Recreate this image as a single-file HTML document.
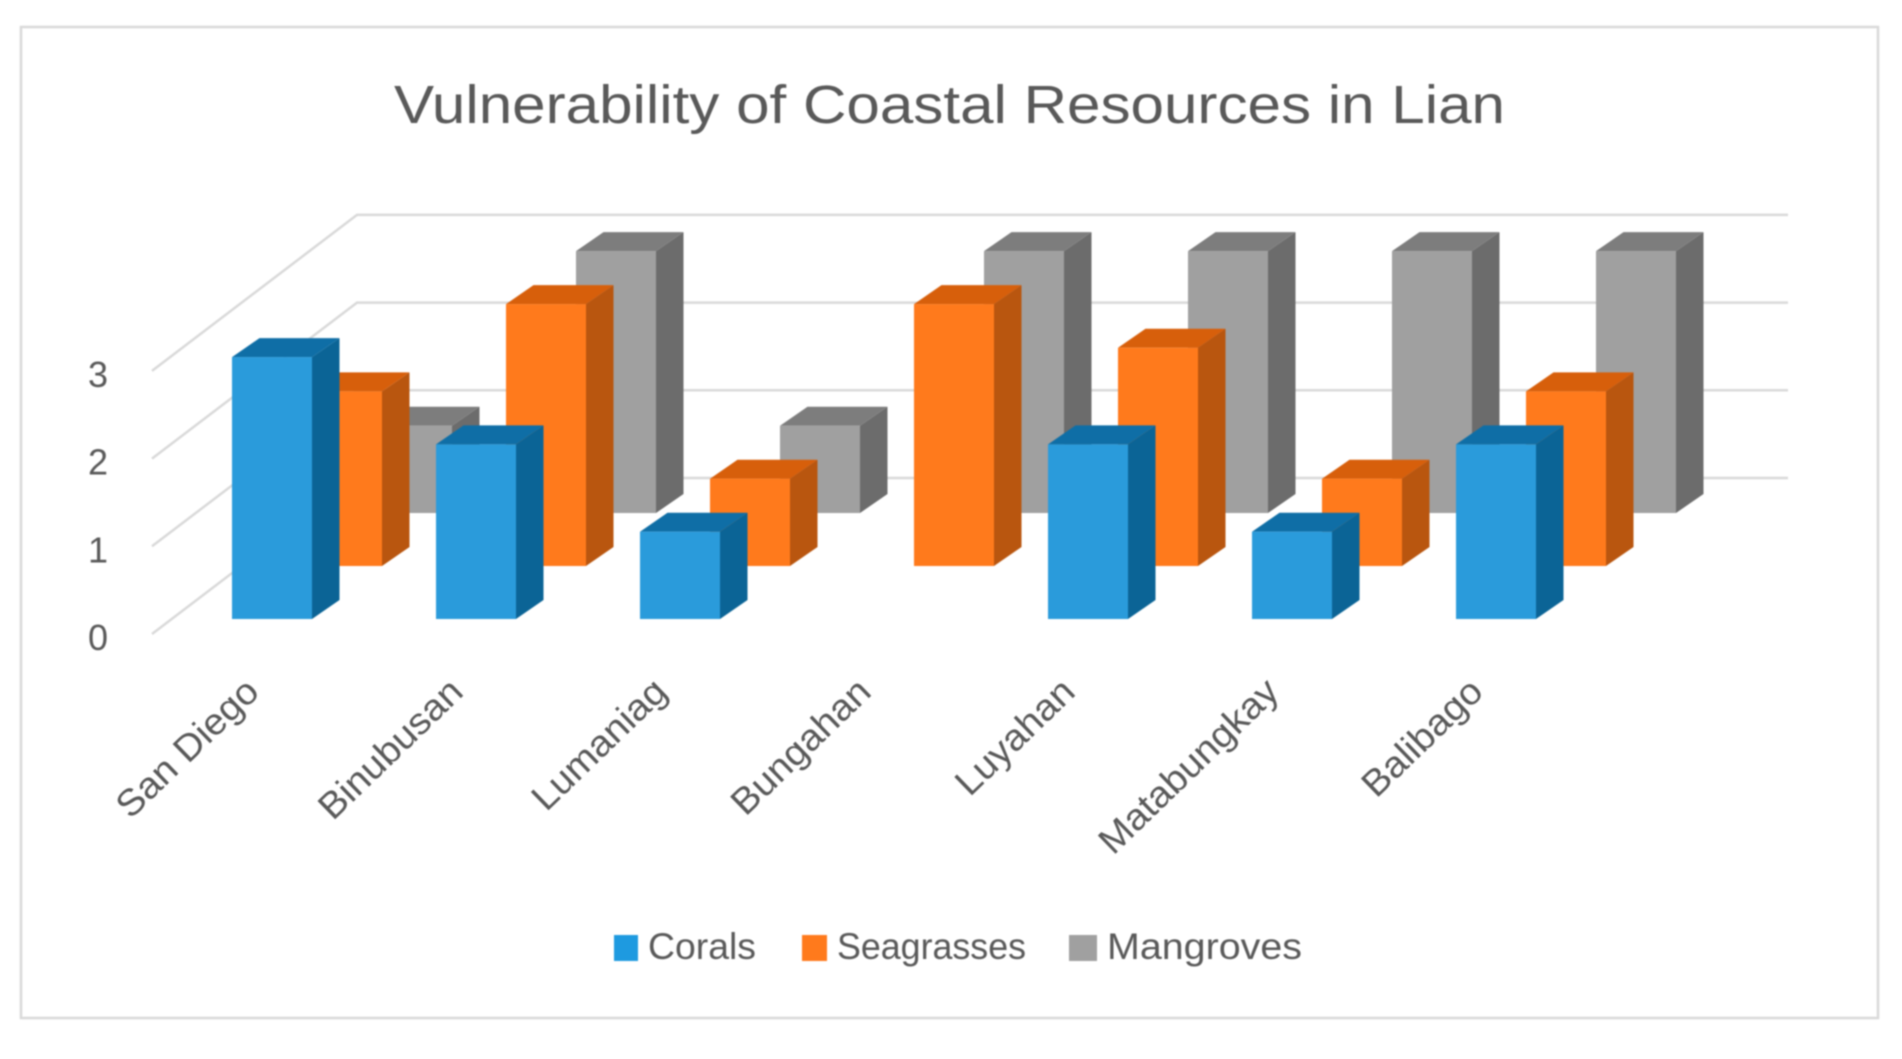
<!DOCTYPE html>
<html lang="en">
<head>
<meta charset="utf-8">
<title>Vulnerability of Coastal Resources in Lian</title>
<style>
html,body{margin:0;padding:0;background:#fff;width:1902px;height:1059px;overflow:hidden}
svg{display:block;filter:blur(0.9px)}
text{font-family:"Liberation Sans",sans-serif;fill:#595959}
</style>
</head>
<body>
<svg id="chart" xmlns="http://www.w3.org/2000/svg" width="1902" height="1059" viewBox="0 0 1902 1059">
  <rect x="21" y="27" width="1857" height="991" fill="#fff" stroke="#d9d9d9" stroke-width="2.5"/>
  <text x="394" y="123" font-size="54" textLength="1111" lengthAdjust="spacingAndGlyphs">Vulnerability of Coastal Resources in Lian</text>
  <g id="grid"></g>
  <g id="ticks"></g>
  <g id="bars"></g>
  <g id="cats"></g>
  <g>
    <g>
      <rect x="614" y="935" width="24" height="26" fill="#1e9ae0"/>
      <text x="648" y="959" font-size="37" textLength="108" lengthAdjust="spacingAndGlyphs">Corals</text>
    </g>
    <g>
      <rect x="802" y="935" width="25" height="26" fill="#ff7a1c"/>
      <text x="837" y="959" font-size="37" textLength="189" lengthAdjust="spacingAndGlyphs">Seagrasses</text>
    </g>
    <g>
      <rect x="1069" y="935" width="28" height="26" fill="#a0a0a0"/>
      <text x="1107" y="959" font-size="37" textLength="195" lengthAdjust="spacingAndGlyphs">Mangroves</text>
    </g>
  </g>
</svg>
<script>
const categories = ["San Diego", "Binubusan", "Lumaniag", "Bungahan", "Luyahan", "Matabungkay", "Balibago"];
const corals = [3, 2, 1, 0, 2, 1, 2];
const seagrasses = [2, 3, 1, 3, 2.5, 1, 2];
const mangroves = [1, 3, 1, 3, 3, 3, 3];
const yTicks = [0, 1, 2, 3];

const NS = 'http://www.w3.org/2000/svg';
const UNIT = 87.3, BAR_W = 80, DEPTH_X = 27.5, DEPTH_Y = 19;

function catX(i) { return 232 + 204 * i; }
function rowX(row) { return 70 * row; }
function rowBase(row) { return 619 - 53 * row; }
function barHeight(v) { return v * UNIT; }
function backY(v) { return 478 - 87.7 * v; }
function frontY(v) { return 634 - 87.7 * v; }

function make(tag, parent, attrs) {
  const el = document.createElementNS(NS, tag);
  for (const k in attrs) el.setAttribute(k, attrs[k]);
  parent.appendChild(el);
  return el;
}

const grid = document.getElementById('grid');
yTicks.forEach(function (t) {
  const w = make('polyline', grid, {
    points: '152,' + frontY(t) + ' 357,' + backY(t) + ' 1788,' + backY(t),
    fill: 'none', stroke: '#d9d9d9', 'stroke-width': 2.5
  });
  
  
});

const ticks = document.getElementById('ticks');
yTicks.forEach(function (t) {
  const el = make('text', ticks, { x: 98, y: frontY(t) + 16, 'font-size': 36, 'text-anchor': 'middle' });
  el.textContent = t;
  
  
});

const shades = [
  { front: '#2a9bdb', top: '#0f6ea6', side: '#0b6496' },
  { front: '#ff7a1c', top: '#d75f0b', side: '#b9560f' },
  { front: '#a0a0a0', top: '#7d7d7d', side: '#6c6c6c' }
];
const seriesNames = ['corals', 'seagrasses', 'mangroves'];
const seriesValues = [corals, seagrasses, mangroves];

const barsRoot = document.getElementById('bars');
[2, 1, 0].forEach(function (row) {
  const values = seriesValues[row];
  const c = shades[row];
  values.forEach(function (v, i) {
    if (v <= 0) return;
    const x0 = catX(i) + rowX(row), x1 = x0 + BAR_W;
    const yb = rowBase(row), yt = yb - barHeight(v);
    const g = make('g', barsRoot, {});
    
    
    make('polygon', g, {
      points: x1 + ',' + yt + ' ' + (x1 + DEPTH_X) + ',' + (yt - DEPTH_Y) + ' ' + (x1 + DEPTH_X) + ',' + (yb - DEPTH_Y) + ' ' + x1 + ',' + yb,
      fill: c.side
    });
    make('polygon', g, {
      points: x0 + ',' + yt + ' ' + (x0 + DEPTH_X) + ',' + (yt - DEPTH_Y) + ' ' + (x1 + DEPTH_X) + ',' + (yt - DEPTH_Y) + ' ' + x1 + ',' + yt,
      fill: c.top
    });
    make('rect', g, { x: x0, y: yt, width: BAR_W, height: yb - yt, fill: c.front });
  });
});

const cats = document.getElementById('cats');
categories.forEach(function (name, i) {
  const x = catX(i) + 29, y = 694;
  const el = make('text', cats, {
    x: x, y: y, 'font-size': 37, 'text-anchor': 'end',
    transform: 'rotate(-44 ' + x + ' ' + y + ')'
  });
  el.textContent = name;
  el.setAttribute('textLength', el.getComputedTextLength() * 1.05);
  el.setAttribute('lengthAdjust', 'spacingAndGlyphs');
  
  
});
</script>
</body>
</html>
